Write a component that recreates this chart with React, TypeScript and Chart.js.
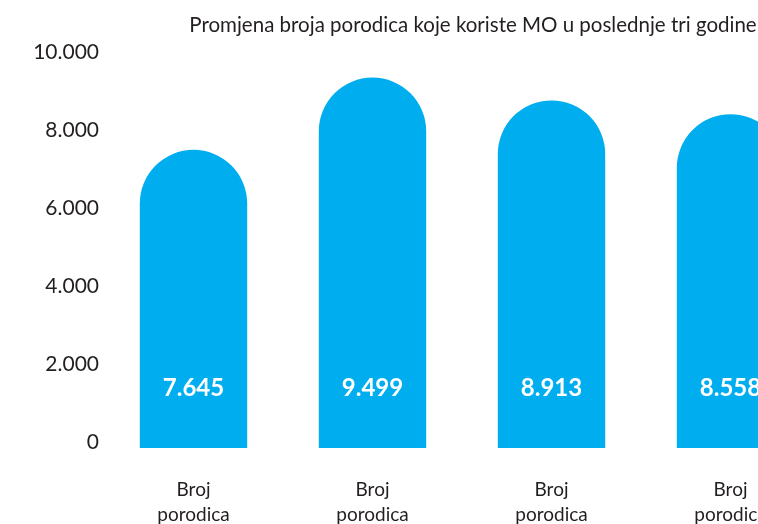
import React, { useEffect, useRef } from "react";
import { Chart, registerables } from "chart.js";

Chart.register(...registerables);

const TITLE = "Promjena broja porodica koje koriste MO u poslednje tri godine";
const categories: string[][] = [
  ["Broj", "porodica"],
  ["Broj", "porodica"],
  ["Broj", "porodica"],
  ["Broj", "porodica"],
];
const values: number[] = [7645, 9499, 8913, 8558];
const yTicks: number[] = [0, 2000, 4000, 6000, 8000, 10000];

const BAR_COLOR = "#00AEEF";
const TEXT_COLOR = "#231F20";
const FONT = "Lato, 'Open Sans', sans-serif";

const fmt = (v: number) => String(Math.round(v)).replace(/\B(?=(\d{3})+(?!\d))/g, ".");

const valueLabels = {
  id: "valueLabels",
  afterDatasetsDraw(chart: any) {
    const ctx = chart.ctx;
    const meta = chart.getDatasetMeta(0);
    ctx.save();
    ctx.fillStyle = "#FFFFFF";
    ctx.font = `bold 24px ${FONT}`;
    ctx.textAlign = "center";
    ctx.textBaseline = "middle";
    meta.data.forEach((bar: any, i: number) => {
      ctx.fillText(fmt(values[i]), bar.x, bar.base - 60);
    });
    ctx.restore();
  },
};

export default function App() {
  const ref = useRef<HTMLCanvasElement | null>(null);

  useEffect(() => {
    document.body.style.margin = "0";
    document.body.style.overflow = "hidden";
    const canvas = ref.current!;
    const chart = new Chart(canvas, {
      type: "bar",
      data: {
        labels: categories,
        datasets: [
          {
            data: values,
            backgroundColor: BAR_COLOR,
            borderWidth: 0,
            borderRadius: { topLeft: 999, topRight: 999, bottomLeft: 0, bottomRight: 0 },
            borderSkipped: false,
            barPercentage: 0.6,
            categoryPercentage: 1,
          },
        ],
      },
      options: {
        responsive: false,
        animation: false,
        layout: { padding: { left: 8, right: 8, top: 0, bottom: 0 } },
        plugins: {
          legend: { display: false },
          tooltip: { enabled: false },
          title: {
            display: true,
            text: TITLE,
            color: TEXT_COLOR,
            font: { family: FONT, size: 20.5, weight: "normal", lineHeight: 1.2 },
            padding: { top: 13, bottom: 20.4 },
          },
        },
        scales: {
          x: {
            grid: { display: false, drawTicks: false },
            border: { display: false },
            ticks: {
              color: TEXT_COLOR,
              font: { family: FONT, size: 19, lineHeight: 1.3 },
              padding: 30,
              maxRotation: 0,
              autoSkip: false,
            },
            afterFit: (s: any) => {
              s.height = 76;
            },
          },
          y: {
            min: 0,
            max: 10000,
            grid: { display: false, drawTicks: false },
            border: { display: false },
            afterBuildTicks: (s: any) => {
              s.ticks = yTicks.map((v) => ({ value: v }));
            },
            ticks: {
              color: TEXT_COLOR,
              font: { family: FONT, size: 21 },
              padding: 5,
              labelOffset: -6,
              callback: (v: any) => fmt(Number(v)),
            },
            afterFit: (s: any) => {
              s.width = 96;
            },
          },
          yRight: {
            position: "right",
            display: true,
            grid: { display: false, drawTicks: false },
            border: { display: false },
            ticks: { display: false },
            afterFit: (s: any) => {
              s.width = 118;
            },
          },
        },
      },
      plugins: [valueLabels],
    });
    return () => chart.destroy();
  }, []);

  return (
    <div style={{ width: 758, height: 524, overflow: "hidden", position: "relative" }}>
      <canvas ref={ref} width={946} height={524} style={{ display: "block" }} />
    </div>
  );
}
